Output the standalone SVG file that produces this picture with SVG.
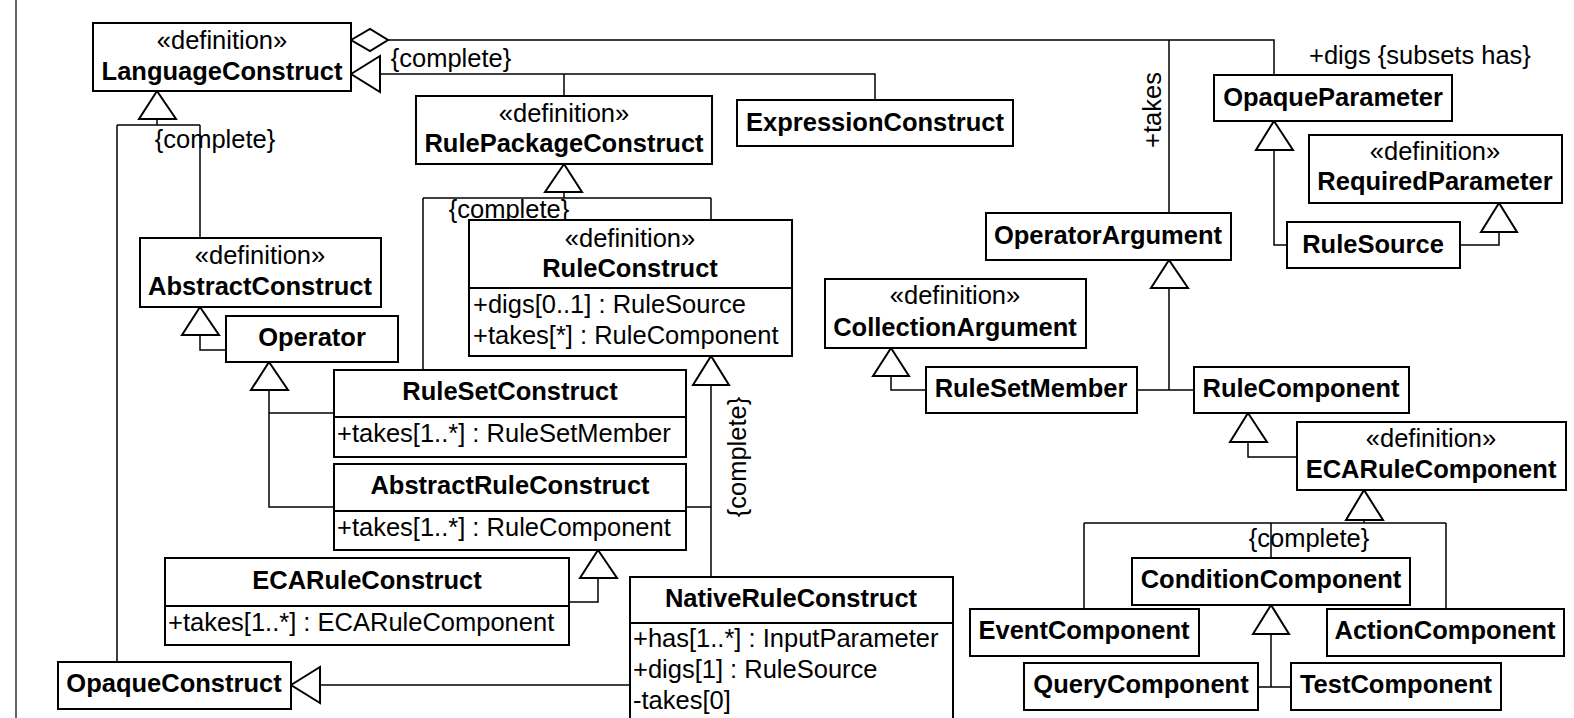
<svg xmlns="http://www.w3.org/2000/svg" width="1574" height="718" viewBox="0 0 1574 718">
  <style>
    .box { fill: #fff; stroke: #000; stroke-width: 2; }
    .ln { fill: none; stroke: #000; stroke-width: 1.5; }
    .tri { fill: #fff; stroke: #000; stroke-width: 2; stroke-linejoin: miter; }
    text { font-family: "Liberation Sans", Arial, sans-serif; font-size: 25.5px; fill: #000; }
    .st { text-anchor: middle; }
    .nm { text-anchor: middle; font-weight: bold; }
    .at { text-anchor: start; }
  </style>
  <rect width="1574" height="718" fill="#fff"/>
  <line x1="16" y1="0" x2="16" y2="718" stroke="#333" stroke-width="1.5"/>

  <g id="connectors">
    <!-- aggregation from LanguageConstruct to operator arguments and parameters -->
    <path class="ln" d="M388,40 H1274 V75 M1169,40 V213"/>
    <polygon class="tri" points="351,40 370,29 388,40 370,51"/>
    <text x="1161" y="110" class="st" transform="rotate(-90 1161 110)">+takes</text>
    <text x="1309" y="64" class="at">+digs {subsets has}</text>

    <!-- LanguageConstruct generalization (right) -->
    <path class="ln" d="M380,74 H875 V100 M564,74 V96"/>
    <polygon class="tri" points="351,74 380,56 380,92"/>
    <text x="451" y="67" class="st">{complete}</text>

    <!-- LanguageConstruct generalization (below) -->
    <path class="ln" d="M157,119 V125 M117,125 H200 M117,125 V662 M200,125 V238"/>
    <polygon class="tri" points="157,91 139,119 176,119"/>
    <text x="215" y="148" class="st">{complete}</text>

    <!-- RulePackageConstruct generalization -->
    <path class="ln" d="M564,192 V198 M423,198 H711 M423,198 V370 M711,198 V220"/>
    <polygon class="tri" points="564,164 545,192 582,192"/>
    <text x="509" y="218" class="st">{complete}</text>

    <!-- AbstractConstruct <- Operator -->
    <path class="ln" d="M200,335 V350 H226"/>
    <polygon class="tri" points="200,307 182,335 219,335"/>

    <!-- Operator <- RuleSetConstruct, AbstractRuleConstruct -->
    <path class="ln" d="M269,390 V507 H334 M269,413 H334"/>
    <polygon class="tri" points="269,362 251,390 288,390"/>

    <!-- RuleConstruct generalization -->
    <path class="ln" d="M711,385 V577 M686,507 H711"/>
    <polygon class="tri" points="711,356 693,385 729,385"/>
    <text x="746" y="457" class="st" transform="rotate(-90 746 457)">{complete}</text>

    <!-- AbstractRuleConstruct <- ECARuleConstruct -->
    <path class="ln" d="M598,578 V602 H569"/>
    <polygon class="tri" points="598,550 580,578 617,578"/>

    <!-- OpaqueConstruct <- NativeRuleConstruct -->
    <path class="ln" d="M320,685 H630"/>
    <polygon class="tri" points="291,685 320,667 320,703"/>

    <!-- OpaqueParameter <- RuleSource -->
    <path class="ln" d="M1274,150 V245 H1287"/>
    <polygon class="tri" points="1274,121 1256,150 1293,150"/>

    <!-- RequiredParameter <- RuleSource -->
    <path class="ln" d="M1499,232 V245 H1460"/>
    <polygon class="tri" points="1499,203 1481,232 1517,232"/>

    <!-- OperatorArgument <- RuleSetMember, RuleComponent -->
    <path class="ln" d="M1169,288 V390 M1137,390 H1194"/>
    <polygon class="tri" points="1169,260 1151,288 1188,288"/>

    <!-- CollectionArgument <- RuleSetMember -->
    <path class="ln" d="M891,376 V390 H926"/>
    <polygon class="tri" points="891,348 873,376 909,376"/>

    <!-- RuleComponent <- ECARuleComponent -->
    <path class="ln" d="M1248,442 V457 H1297"/>
    <polygon class="tri" points="1248,413 1230,442 1267,442"/>

    <!-- ECARuleComponent generalization -->
    <path class="ln" d="M1364,520 V523 M1084,523 H1446 M1084,523 V609 M1271,523 V558 M1446,523 V609"/>
    <polygon class="tri" points="1364,490 1346,520 1383,520"/>
    <text x="1309" y="547" class="st">{complete}</text>

    <!-- ConditionComponent <- QueryComponent, TestComponent -->
    <path class="ln" d="M1271,634 V687 M1258,687 H1291"/>
    <polygon class="tri" points="1271,605 1253,634 1289,634"/>
  </g>

  <g id="LanguageConstruct">
    <rect class="box" x="93" y="23" width="258" height="68"/>
    <text x="222" y="49" class="st">«definition»</text>
    <text x="222" y="80" class="nm">LanguageConstruct</text>
  </g>

  <g id="RulePackageConstruct">
    <rect class="box" x="416" y="96" width="296" height="68"/>
    <text x="564" y="122" class="st">«definition»</text>
    <text x="564" y="152" class="nm">RulePackageConstruct</text>
  </g>

  <g id="ExpressionConstruct">
    <rect class="box" x="737" y="100" width="276" height="46"/>
    <text x="875" y="131" class="nm">ExpressionConstruct</text>
  </g>

  <g id="OpaqueParameter">
    <rect class="box" x="1214" y="75" width="238" height="46"/>
    <text x="1333" y="106" class="nm">OpaqueParameter</text>
  </g>

  <g id="RequiredParameter">
    <rect class="box" x="1309" y="135" width="253" height="68"/>
    <text x="1435" y="160" class="st">«definition»</text>
    <text x="1435" y="190" class="nm">RequiredParameter</text>
  </g>

  <g id="RuleSource">
    <rect class="box" x="1287" y="222" width="173" height="46"/>
    <text x="1373" y="253" class="nm">RuleSource</text>
  </g>

  <g id="OperatorArgument">
    <rect class="box" x="986" y="213" width="245" height="47"/>
    <text x="1108" y="244" class="nm">OperatorArgument</text>
  </g>

  <g id="RuleConstruct">
    <rect class="box" x="469" y="220" width="323" height="136"/>
    <line class="box" x1="469" y1="288" x2="792" y2="288"/>
    <text x="630" y="247" class="st">«definition»</text>
    <text x="630" y="277" class="nm">RuleConstruct</text>
    <text x="473" y="313" class="at">+digs[0..1] : RuleSource</text>
    <text x="473" y="344" class="at">+takes[*] : RuleComponent</text>
  </g>

  <g id="AbstractConstruct">
    <rect class="box" x="140" y="238" width="241" height="69"/>
    <text x="260" y="264" class="st">«definition»</text>
    <text x="260" y="295" class="nm">AbstractConstruct</text>
  </g>

  <g id="Operator">
    <rect class="box" x="226" y="316" width="172" height="46"/>
    <text x="312" y="346" class="nm">Operator</text>
  </g>

  <g id="CollectionArgument">
    <rect class="box" x="825" y="279" width="261" height="69"/>
    <text x="955" y="304" class="st">«definition»</text>
    <text x="955" y="336" class="nm">CollectionArgument</text>
  </g>

  <g id="RuleSetMember">
    <rect class="box" x="926" y="367" width="211" height="46"/>
    <text x="1031" y="397" class="nm">RuleSetMember</text>
  </g>

  <g id="RuleComponent">
    <rect class="box" x="1194" y="367" width="215" height="46"/>
    <text x="1301" y="397" class="nm">RuleComponent</text>
  </g>

  <g id="RuleSetConstruct">
    <rect class="box" x="334" y="370" width="352" height="87"/>
    <line class="box" x1="334" y1="417" x2="686" y2="417"/>
    <text x="510" y="400" class="nm">RuleSetConstruct</text>
    <text x="337" y="442" class="at">+takes[1..*] : RuleSetMember</text>
  </g>

  <g id="ECARuleComponent">
    <rect class="box" x="1297" y="422" width="269" height="68"/>
    <text x="1431" y="447" class="st">«definition»</text>
    <text x="1431" y="478" class="nm">ECARuleComponent</text>
  </g>

  <g id="AbstractRuleConstruct">
    <rect class="box" x="334" y="464" width="352" height="86"/>
    <line class="box" x1="334" y1="511" x2="686" y2="511"/>
    <text x="510" y="494" class="nm">AbstractRuleConstruct</text>
    <text x="337" y="536" class="at">+takes[1..*] : RuleComponent</text>
  </g>

  <g id="ConditionComponent">
    <rect class="box" x="1132" y="558" width="278" height="47"/>
    <text x="1271" y="588" class="nm">ConditionComponent</text>
  </g>

  <g id="ECARuleConstruct">
    <rect class="box" x="165" y="558" width="404" height="87"/>
    <line class="box" x1="165" y1="606" x2="569" y2="606"/>
    <text x="367" y="589" class="nm">ECARuleConstruct</text>
    <text x="168" y="631" class="at">+takes[1..*] : ECARuleComponent</text>
  </g>

  <g id="NativeRuleConstruct">
    <rect class="box" x="630" y="577" width="323" height="160"/>
    <line class="box" x1="630" y1="623" x2="953" y2="623"/>
    <text x="791" y="607" class="nm">NativeRuleConstruct</text>
    <text x="633" y="647" class="at">+has[1..*] : InputParameter</text>
    <text x="633" y="678" class="at">+digs[1] : RuleSource</text>
    <text x="633" y="709" class="at">-takes[0]</text>
  </g>

  <g id="EventComponent">
    <rect class="box" x="970" y="609" width="229" height="47"/>
    <text x="1084" y="639" class="nm">EventComponent</text>
  </g>

  <g id="ActionComponent">
    <rect class="box" x="1327" y="609" width="237" height="47"/>
    <text x="1445" y="639" class="nm">ActionComponent</text>
  </g>

  <g id="QueryComponent">
    <rect class="box" x="1024" y="663" width="234" height="47"/>
    <text x="1141" y="693" class="nm">QueryComponent</text>
  </g>

  <g id="TestComponent">
    <rect class="box" x="1291" y="663" width="210" height="47"/>
    <text x="1396" y="693" class="nm">TestComponent</text>
  </g>

  <g id="OpaqueConstruct">
    <rect class="box" x="58" y="662" width="233" height="47"/>
    <text x="174" y="692" class="nm">OpaqueConstruct</text>
  </g>
</svg>
